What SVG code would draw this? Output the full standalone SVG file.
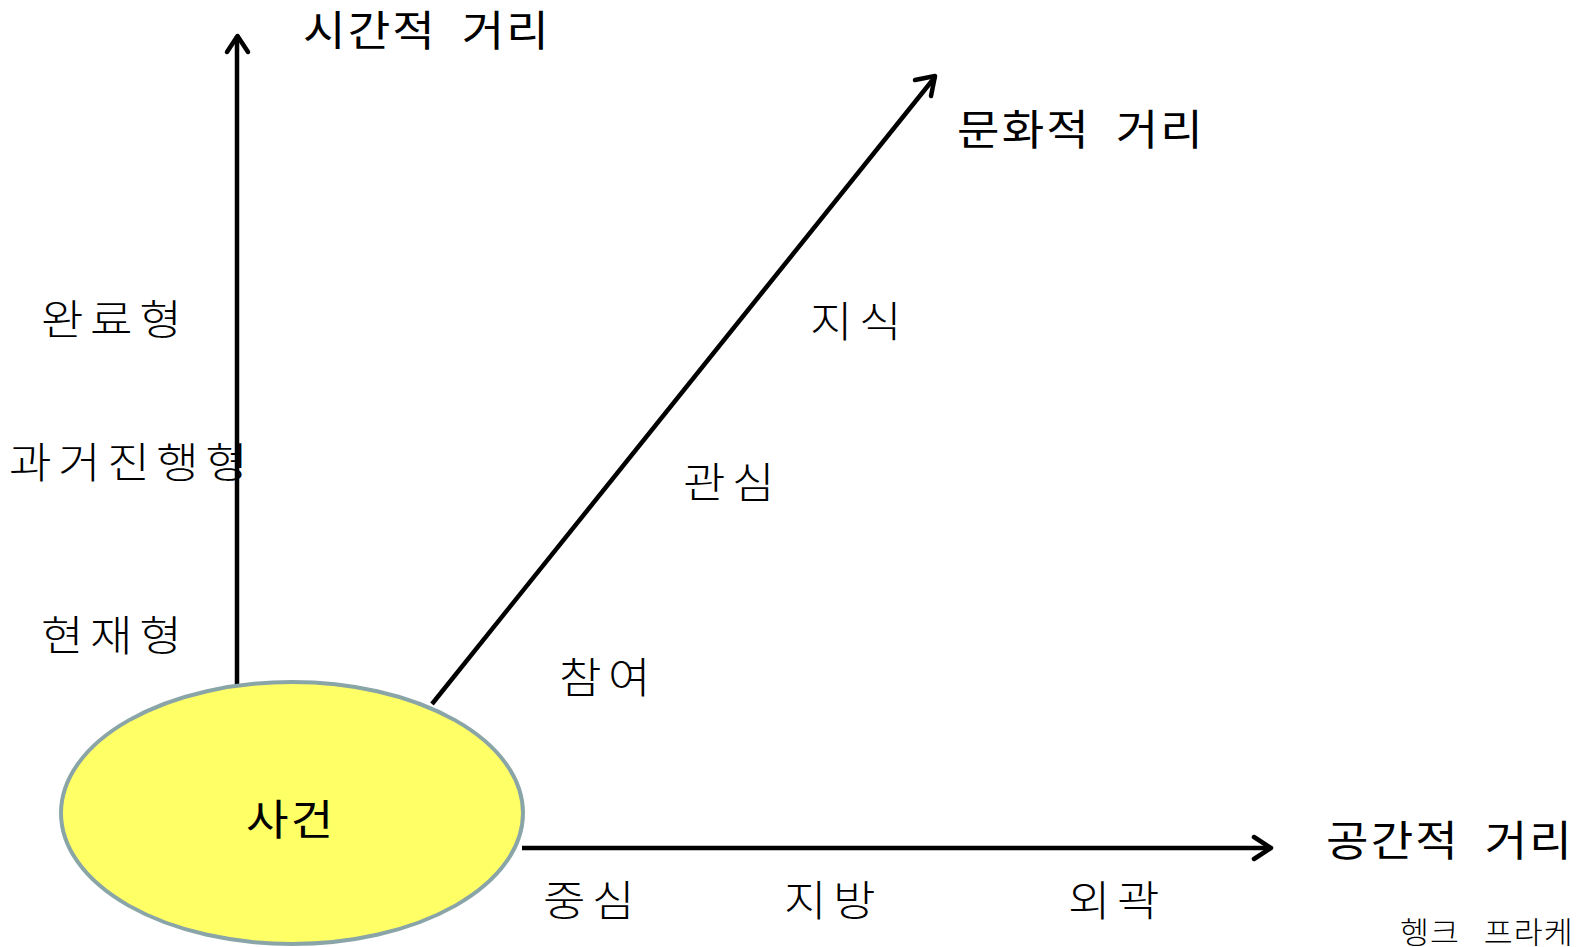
<svg xmlns="http://www.w3.org/2000/svg" width="1578" height="947" viewBox="0 0 1578 947">
<style>
.t{font-family:"Noto Sans CJK KR","Noto Sans",sans-serif;fill:#000}
.title{font-size:42px;letter-spacing:2px;word-spacing:11px}
.lab{font-size:42px;font-weight:300;letter-spacing:6px}
.ax{stroke:#000;stroke-width:4.5;fill:none}
.hd{stroke:#000;stroke-width:4.5;fill:none;stroke-linecap:round;stroke-linejoin:round}
</style>
<rect width="1578" height="947" fill="#fff"/>
<g id="connectors">
<line class="ax" x1="237" y1="692" x2="237" y2="36"/>
<polyline class="hd" points="227,52 237.5,36 248,52"/>
<line class="ax" x1="432" y1="704" x2="935" y2="77"/>
<polyline class="hd" points="915,80 935,76 931,96"/>
<line class="ax" x1="522" y1="848" x2="1270" y2="848"/>
<polyline class="hd" points="1254,837 1271,848 1254,859"/>
</g>
<g id="event">
<ellipse cx="292" cy="813" rx="231" ry="131" fill="#ffff66" stroke="#8aa5a8" stroke-width="4"/>
<text class="t title" transform="translate(246,835) scale(1.1,1)">사건</text>
</g>
<g id="time-axis-label"><text class="t title" transform="translate(303,46) scale(1.1,1)">시간적 거리</text></g>
<g id="culture-axis-label"><text class="t title" transform="translate(957,145) scale(1.1,1)">문화적 거리</text></g>
<g id="space-axis-label"><text class="t title" transform="translate(1326,856) scale(1.1,1)">공간적 거리</text></g>
<g id="time-labels">
<text class="t lab" transform="translate(41,335) scale(1.1,1)">완료형</text>
<text class="t lab" transform="translate(9,478) scale(1.1,1)">과거진행형</text>
<text class="t lab" transform="translate(41,651) scale(1.1,1)">현재형</text>
</g>
<g id="culture-labels">
<text class="t lab" transform="translate(810,337) scale(1.1,1)">지식</text>
<text class="t lab" transform="translate(683,498) scale(1.1,1)">관심</text>
<text class="t lab" transform="translate(559,693) scale(1.1,1)">참여</text>
</g>
<g id="space-labels">
<text class="t lab" transform="translate(543,916) scale(1.1,1)">중심</text>
<text class="t lab" transform="translate(784,916) scale(1.1,1)">지방</text>
<text class="t lab" transform="translate(1068,916) scale(1.1,1)">외곽</text>
</g>
<g id="source"><text class="t" transform="translate(1400,943) scale(1.05,1)" font-size="30" font-weight="300" letter-spacing="1" word-spacing="15">헹크 프라케</text></g>
</svg>
